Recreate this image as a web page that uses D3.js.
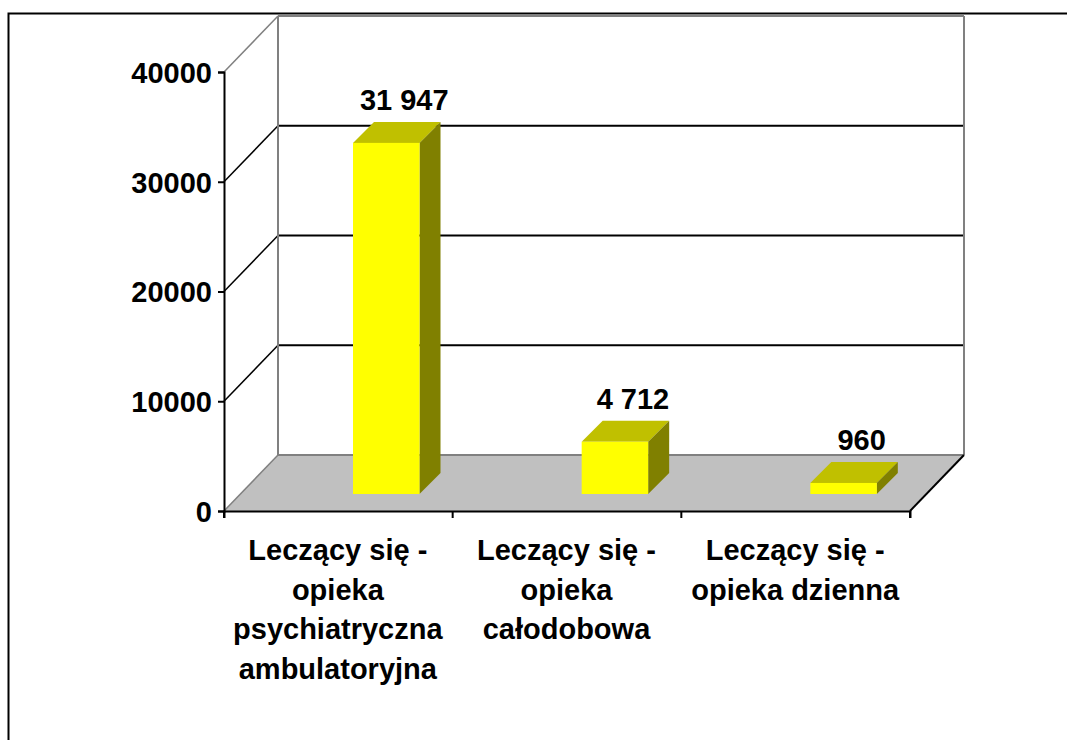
<!DOCTYPE html>
<html><head><meta charset="utf-8">
<script src="https://cdn.jsdelivr.net/npm/d3@7/dist/d3.min.js"></script>
<style>html,body{margin:0;padding:0;background:#fff}svg{display:block}text{font-family:"Liberation Sans",Arial,sans-serif;font-weight:bold;fill:#000}</style>
</head><body><svg id="c" width="1067" height="740"></svg>
<script>
const categories = ["Leczący się - opieka psychiatryczna ambulatoryjna","Leczący się - opieka całodobowa","Leczący się - opieka dzienna"];
const categoryLines = [["Leczący się -","opieka","psychiatryczna","ambulatoryjna"],["Leczący się -","opieka","całodobowa"],["Leczący się -","opieka dzienna"]];
const values = [31947,4712,960];
const valueLabels = ["31 947","4 712","960"];
const yTicks = [0,10000,20000,30000,40000];

const svg = d3.select("#c");
const y = d3.scaleLinear().domain([0,40000]).range([511,72]);
const x = d3.scaleBand().domain(categories).range([224,910]);
const dx=54, dy=-56;              // wall depth
const barInset=17, barDepth=21, barW=66.5, barOff=129;
const grey="#808080", fontPx=29;
const line=(a,b,c,d,col,w)=>svg.append("line").attr("x1",a).attr("y1",b).attr("x2",c).attr("y2",d).attr("stroke",col).attr("stroke-width",w);
const poly=(pts,fill)=>svg.append("polygon").attr("points",pts.map(p=>p.join(",")).join(" ")).attr("fill",fill);

// frame
svg.append("path").attr("d","M8.5,740V13.5H1067").attr("fill","none").attr("stroke","#000").attr("stroke-width",2);

const y0=y(0), yT=y(40000), xL=x.range()[0], xR=x.range()[1];
// floor
poly([[xL,y0],[xL+dx,y0+dy],[xR+dx,y0+dy],[xR,y0]],"#c0c0c0");
// gridlines
yTicks.slice(1,-1).forEach(t=>{
  line(xL,y(t),xL+dx,y(t)+dy,"#000",1.5);
  line(xL+dx,y(t)+dy,xR+dx,y(t)+dy,"#000",2);
});
// walls (grey)
line(xL,yT,xL+dx,yT+dy,grey,1.5);
line(xL+dx,yT+dy,xR+dx,yT+dy,grey,2);
line(xL+dx,yT+dy,xL+dx,y0+dy,grey,2);
line(xR+dx,yT+dy,xR+dx,y0+dy,grey,2);
line(xL+dx,y0+dy,xR+dx,y0+dy,grey,2);
line(xL,y0,xL+dx,y0+dy,grey,1.5);
line(xR,y0,xR+dx,y0+dy,"#000",2);

// axes via d3
const yAxis=d3.axisLeft(y).tickValues(yTicks).tickSize(6).tickPadding(6).tickFormat(d3.format("d"));
const gy=svg.append("g").attr("transform",`translate(${xL},0)`).call(yAxis);
gy.selectAll("path,line").attr("stroke","#000").attr("stroke-width",2);
gy.selectAll("text").attr("dy","0.36em").style("font-size",fontPx+"px").style("font-family",'"Liberation Sans"').style("font-weight","bold").attr("fill","#000");
const xAxis=d3.axisBottom(x).tickValues([]).tickSizeOuter(7);
const gx=svg.append("g").attr("transform",`translate(0,${y0})`).call(xAxis);
gx.selectAll("path").attr("stroke","#000").attr("stroke-width",2);
[...x.domain().map(d=>x(d)),xR].forEach(v=>line(v,y0,v,y0+7,"#000",2));

// bars
categories.forEach((c,i)=>{
  const l=x(c)+barOff, r=l+barW, b=y0-barInset, t=y(values[i])-barInset-0.5;
  const d=barDepth;
  poly([[l,t],[l+d,t-d],[r+d,t-d],[r,t]],"#c0c000");
  poly([[r,t],[r+d,t-d],[r+d,b-d],[r,b]],"#808000");
  svg.append("rect").attr("x",l).attr("y",t).attr("width",barW).attr("height",b-t).attr("fill","#ffff00");
  svg.append("text").attr("x",l+barW/2+18).attr("y",t-d-12).attr("text-anchor","middle").style("font-size",fontPx+"px").text(valueLabels[i]);
  const g=svg.append("text").attr("text-anchor","middle").style("font-size",fontPx+"px");
  categoryLines[i].forEach((s,j)=>g.append("tspan").attr("x",x(c)+x.bandwidth()/2-0.5).attr("y",560+j*39.5).text(s));
});
</script></body></html>
